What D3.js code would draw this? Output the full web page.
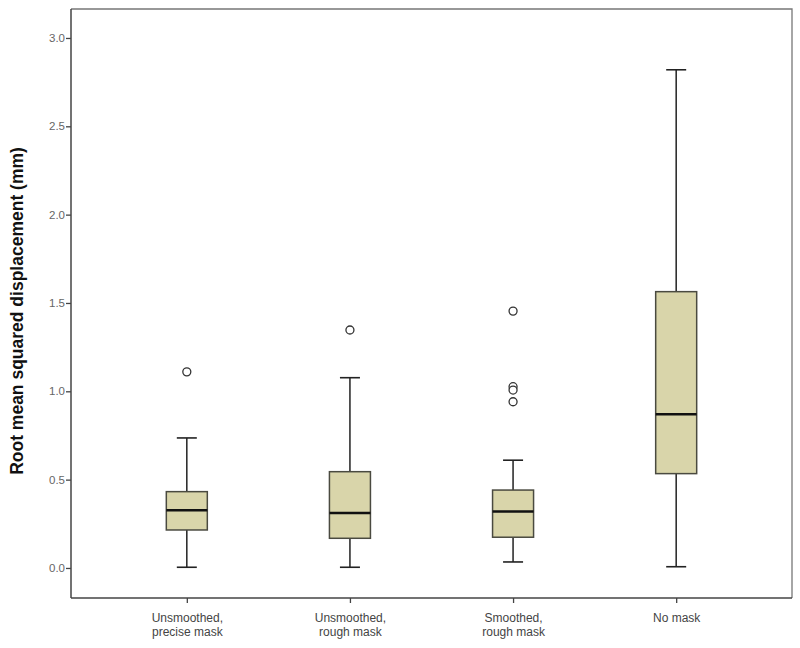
<html>
<head>
<style>
  body { margin: 0; background: #fff; }
  .tick text { font-family: "Liberation Sans", Arial, sans-serif; }
</style>
</head>
<body>
<svg width="800" height="648"></svg>
<script src="https://cdn.jsdelivr.net/npm/d3@7"></script>
<script>

var categories = ["Unsmoothed,\nprecise mask", "Unsmoothed,\nrough mask", "Smoothed,\nrough mask", "No mask"];

// five-number summaries
var whiskerLow  = [0.004, 0.004, 0.034, 0.007];
var q1          = [0.215, 0.168, 0.174, 0.534];
var median      = [0.327, 0.311, 0.320, 0.870];
var q3          = [0.432, 0.545, 0.441, 1.564];
var whiskerHigh = [0.736, 1.077, 0.610, 2.820];

var outliers = [[1.110], [1.347], [1.454, 1.026, 1.007, 0.941], []];

var yTicks = [0.0, 0.5, 1.0, 1.5, 2.0, 2.5, 3.0];

var svg = d3.select("svg"),
    margin = {top: 9, right: 8, bottom: 50, left: 71},
    width = +svg.attr("width") - margin.left - margin.right,
    height = +svg.attr("height") - margin.top - margin.bottom,
    g = svg.append("g").attr("transform", "translate(" + margin.left + "," + margin.top + ")");

var x = d3.scalePoint()
    .domain(categories)
    .range([0, width])
    .padding(0.71);

var y = d3.scaleLinear()
    .domain([-0.17, 3.164])
    .range([height, 0]);

var boxW = 41, capW = 20;

// frame (top and right)
g.append("path")
    .attr("d", "M0,0H" + width + "V" + height)
    .attr("fill", "none")
    .attr("stroke", "#777")
    .attr("stroke-width", 1.3);

var yAxis = g.append("g")
    .call(d3.axisLeft(y).tickValues(yTicks).tickSize(5).tickFormat(d3.format(".1f")));
yAxis.select(".domain").attr("stroke", "#444").attr("stroke-width", 1.5).attr("d", "M0," + height + "V0");
yAxis.selectAll(".tick line").attr("stroke", "#444").attr("stroke-width", 1.3);
yAxis.selectAll(".tick text").attr("fill", "#666").attr("font-size", 11.5).attr("x", -6);

var xAxis = g.append("g")
    .attr("transform", "translate(0," + height + ")")
    .call(d3.axisBottom(x).tickSize(5).tickFormat(""));
xAxis.select(".domain").attr("stroke", "#444").attr("stroke-width", 1.5).attr("d", "M0,0H" + width);
xAxis.selectAll(".tick line").attr("stroke", "#444").attr("stroke-width", 1.3);

// two-line category labels, one text element per line
xAxis.selectAll(".tick").each(function(d) {
  var t = d3.select(this);
  d.split("\n").forEach(function(line, i) {
    t.append("text")
        .attr("fill", "#444")
        .attr("font-size", 12)
        .attr("text-anchor", "middle")
        .attr("x", 0)
        .attr("y", 24 + i * 14)
        .text(line);
  });
});

// y axis title
svg.append("text")
    .attr("transform", "translate(23," + 311 + ") rotate(-90)")
    .attr("text-anchor", "middle")
    .attr("font-family", "Liberation Sans, Arial, sans-serif")
    .attr("font-weight", "bold")
    .attr("font-size", 17.5)
    .attr("fill", "#111")
    .text("Root mean squared displacement (mm)");

var boxes = g.selectAll(".box")
    .data(categories)
  .enter().append("g")
    .attr("class", "box")
    .attr("transform", function(d) { return "translate(" + x(d) + ",0)"; });

// whiskers
boxes.append("line")
    .attr("y1", function(d, i) { return y(whiskerLow[i]); })
    .attr("y2", function(d, i) { return y(q1[i]); })
    .attr("stroke", "#222").attr("stroke-width", 1.5);
boxes.append("line")
    .attr("y1", function(d, i) { return y(q3[i]); })
    .attr("y2", function(d, i) { return y(whiskerHigh[i]); })
    .attr("stroke", "#222").attr("stroke-width", 1.5);
boxes.append("line")
    .attr("x1", -capW / 2).attr("x2", capW / 2)
    .attr("y1", function(d, i) { return y(whiskerLow[i]); })
    .attr("y2", function(d, i) { return y(whiskerLow[i]); })
    .attr("stroke", "#222").attr("stroke-width", 1.6);
boxes.append("line")
    .attr("x1", -capW / 2).attr("x2", capW / 2)
    .attr("y1", function(d, i) { return y(whiskerHigh[i]); })
    .attr("y2", function(d, i) { return y(whiskerHigh[i]); })
    .attr("stroke", "#222").attr("stroke-width", 1.6);

// box
boxes.append("rect")
    .attr("x", -boxW / 2)
    .attr("width", boxW)
    .attr("y", function(d, i) { return y(q3[i]); })
    .attr("height", function(d, i) { return y(q1[i]) - y(q3[i]); })
    .attr("fill", "#d9d5aa")
    .attr("stroke", "#4a4a40")
    .attr("stroke-width", 1.5);

// median
boxes.append("line")
    .attr("x1", -boxW / 2).attr("x2", boxW / 2)
    .attr("y1", function(d, i) { return y(median[i]); })
    .attr("y2", function(d, i) { return y(median[i]); })
    .attr("stroke", "#111").attr("stroke-width", 2.6);

// outliers
boxes.selectAll("circle")
    .data(function(d, i) { return outliers[i]; })
  .enter().append("circle")
    .attr("cx", 0)
    .attr("cy", function(v) { return y(v); })
    .attr("r", 4)
    .attr("fill", "#fff")
    .attr("stroke", "#333")
    .attr("stroke-width", 1.3);

</script>
</body>
</html>
